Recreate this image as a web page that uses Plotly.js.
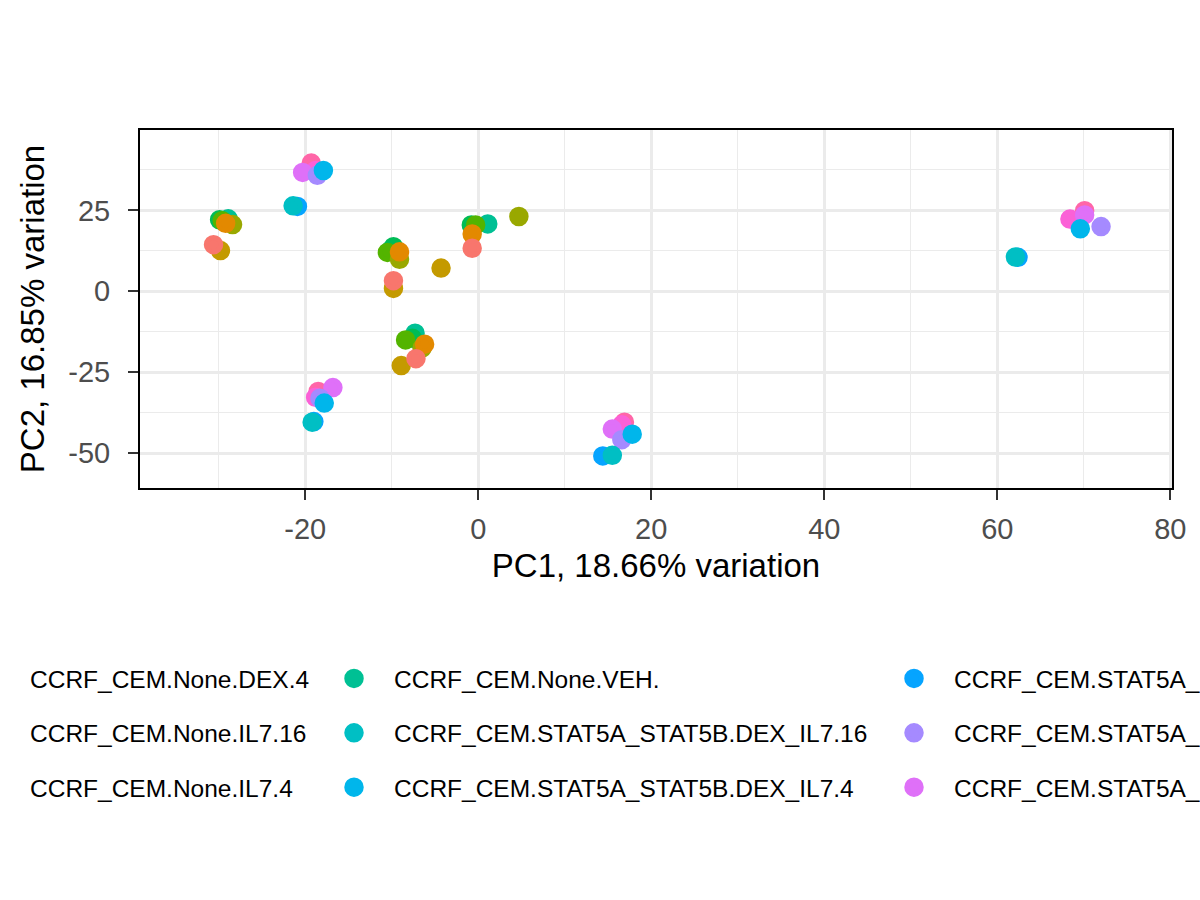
<!DOCTYPE html>
<html>
<head>
<meta charset="utf-8">
<script src="https://cdn.plot.ly/plotly-3.0.1.min.js"></script>
<style>
  html, body { margin: 0; padding: 0; background: #fff; }
  #chart { width: 1200px; height: 900px; }
</style>
</head>
<body>
<div id="chart"></div>
<script>
// PCA biplot, samples coloured by condition (ggplot hue palette, 14 levels)

const groups = [
  "CCRF_CEM.None.DEX_IL7.16",
  "CCRF_CEM.None.DEX_IL7.4",
  "CCRF_CEM.None.DEX.16",
  "CCRF_CEM.None.DEX.4",
  "CCRF_CEM.None.IL7.16",
  "CCRF_CEM.None.IL7.4",
  "CCRF_CEM.None.VEH.",
  "CCRF_CEM.STAT5A_STAT5B.DEX_IL7.16",
  "CCRF_CEM.STAT5A_STAT5B.DEX_IL7.4",
  "CCRF_CEM.STAT5A_STAT5B.DEX.16",
  "CCRF_CEM.STAT5A_STAT5B.DEX.4",
  "CCRF_CEM.STAT5A_STAT5B.IL7.16",
  "CCRF_CEM.STAT5A_STAT5B.IL7.4",
  "CCRF_CEM.STAT5A_STAT5B.VEH.",
];

const colors = [
  "#F8766D", "#E38900", "#C49A00", "#99A800", "#53B400", "#00BC56", "#00C094",
  "#00BFC4", "#00B6EB", "#06A4FF", "#A58AFF", "#DF70F8", "#FB61D7", "#FF66A8",
];

// PC1 / PC2 scores, one array per group (4 replicates each)
const pc1 = [
  [-30.6, -9.8, -0.7, -7.2],
  [-29.2, -9.1, -0.7, -6.2],
  [-29.8, -9.8, -4.3, -8.9],
  [-28.4, -9.1, 4.7, -6.5],
  [-29.6, -10.5, -0.3, -8.4],
  [-29.9, -9.8, -0.8, -7.6],
  [-28.9, -10.2, 1.1, -7.3],
  [-21.4, -19.2, 15.5, 62.1],
  [-17.9, -17.8, 17.8, 69.6],
  [-20.9, -19.0, 14.4, 62.4],
  [-18.6, -18.3, 16.6, 72.0],
  [-20.3, -16.8, 15.5, 70.1],
  [-18.8, -18.8, 16.6, 68.4],
  [-19.3, -18.5, 16.9, 70.1],
];

const pc2 = [
  [14.4, 3.3, 13.3, -20.8],
  [21.0, 12.2, 17.7, -16.3],
  [12.6, 0.9, 7.2, -22.9],
  [20.6, 9.9, 23.1, -17.5],
  [21.8, 12.0, 20.5, -15.0],
  [22.1, 13.8, 20.5, -14.5],
  [22.4, 12.6, 20.8, -12.9],
  [26.4, -40.4, -50.6, 10.6],
  [37.3, -34.5, -44.1, 19.3],
  [26.2, -40.2, -50.8, 10.5],
  [35.8, -33.0, -45.8, 20.0],
  [36.7, -29.7, -42.5, 23.6],
  [37.3, -32.7, -41.2, 22.3],
  [39.6, -30.9, -40.4, 24.9],
];

// tick positions and labels (plain hyphen minus, as ggplot prints them)
const xTickVals = [-20, 0, 20, 40, 60, 80];
const xTickText = ["-20", "0", "20", "40", "60", "80"];
const yTickVals = [-50, -25, 0, 25];
const yTickText = ["-50", "-25", "0", "25"];

const xTitle = "PC1, 18.66% variation";
const yTitle = "PC2, 16.85% variation";

const FONT = '"Liberation Sans", Arial, Helvetica, sans-serif';
const ROWS = 3;
const M = { l: 140, r: 28, t: 130, b: 412 };
const PLOT_W = 1200 - M.l - M.r;
const PLOT_H = 900 - M.t - M.b;
// left edge (px) of each legend column; the outer two fall off the page like the original
const LEGEND_LEFT = [-478, -50, 314, 874, 1379];
const LEGEND_TOP = 656;

function legendId(col) {
  return col === 0 ? "legend" : "legend" + (col + 1);
}

// draw last level first so the earlier levels sit on top, as in the source plot
const traces = groups.map((name, i) => ({
  type: "scatter",
  mode: "markers",
  name,
  x: pc1[i],
  y: pc2[i],
  legend: legendId(Math.floor(i / ROWS)),
  legendgroup: name,
  legendrank: i + 1,
  marker: { size: 14.5, color: colors[i], line: { color: colors[i], width: 5 } },
  hovertemplate: `<b>${name}</b><br>PC1 %{x:.1f}<br>PC2 %{y:.1f}<extra></extra>`,
})).reverse();

const axisBase = {
  showgrid: true,
  gridcolor: "#EBEBEB",
  gridwidth: 2.6,
  zeroline: false,
  showline: true,
  mirror: true,
  linecolor: "#000",
  linewidth: 2,
  ticks: "outside",
  ticklen: 10,
  tickwidth: 2.4,
  tickcolor: "#333333",
  tickmode: "array",
  tickfont: { family: FONT, size: 29, color: "#4D4D4D" },
};

const layout = {
  width: 1200,
  height: 900,
  margin: { ...M, autoexpand: false },
  paper_bgcolor: "#fff",
  plot_bgcolor: "#fff",
  font: { family: FONT, color: "#000" },
  xaxis: {
    ...axisBase,
    range: [-39.1, 80.2],
    tickvals: xTickVals,
    ticktext: xTickText,
    ticklabelstandoff: 4,
    minor: { tick0: 0, dtick: 10, showgrid: true, gridcolor: "#EBEBEB", gridwidth: 1.3 },
    title: { text: xTitle, font: { family: FONT, size: 33, color: "#000" }, standoff: 10 },
  },
  yaxis: {
    ...axisBase,
    range: [-60.7, 49.8],
    tickvals: yTickVals,
    ticktext: yTickText,
    ticklabelstandoff: 12,
    minor: { tick0: 0, dtick: 12.5, showgrid: true, gridcolor: "#EBEBEB", gridwidth: 1.3 },
    title: { text: yTitle, font: { family: FONT, size: 33, color: "#000" }, standoff: 14 },
  },
  showlegend: true,
};

LEGEND_LEFT.forEach((left, col) => {
  layout[legendId(col)] = {
    orientation: "v",
    x: (left - M.l) / PLOT_W,
    xanchor: "left",
    y: 1 - (LEGEND_TOP - M.t) / PLOT_H,
    yanchor: "top",
    traceorder: "grouped",
    tracegroupgap: 19.5,
    itemwidth: 70,
    bgcolor: "rgba(0,0,0,0)",
    borderwidth: 0,
    font: { family: FONT, size: 24.5, color: "#000" },
  };
});

Plotly.newPlot("chart", traces, layout, { displayModeBar: false, responsive: false });
</script>
</body>
</html>
